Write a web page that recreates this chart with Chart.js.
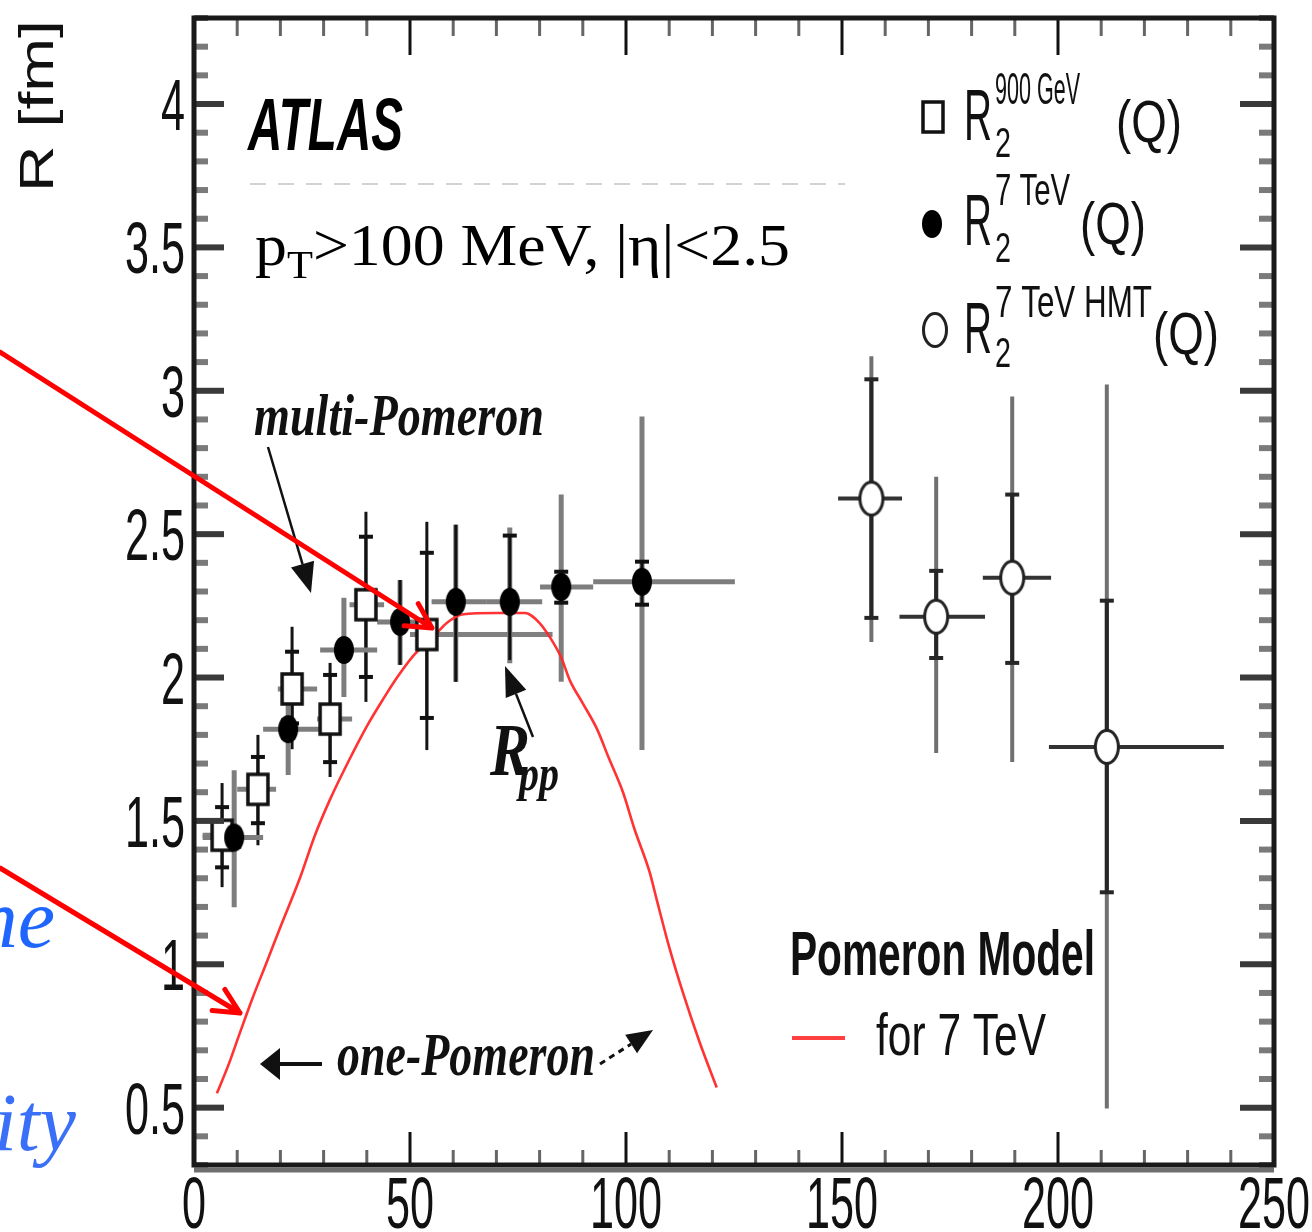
<!DOCTYPE html>
<html><head><meta charset="utf-8">
<script src="https://cdn.jsdelivr.net/npm/chart.js@4.4.0/dist/chart.umd.min.js"></script>
<style>html,body{margin:0;padding:0;background:#fff;}canvas{display:block;}</style>
</head><body>
<canvas id="c" width="1312" height="1232"></canvas>
<script>
// ---------------- data ----------------
const xTicks = [0, 50, 100, 150, 200, 250];
const xTickLabels = ['0', '50', '100', '150', '200', '250'];
const yTicks = [0.5, 1, 1.5, 2, 2.5, 3, 3.5, 4];
const yTickLabels = ['0.5', '1', '1.5', '2', '2.5', '3', '3.5', '4'];

// R2 900 GeV (open squares)
const q900 = [6.5, 14.8, 22.7, 31.5, 39.8, 53.9];
const r900 = [1.45, 1.61, 1.96, 1.855, 2.254, 2.15];
const q900Lo = [2, 10, 19.4, 28.5, 36, 50];
const q900Hi = [10, 19, 28.5, 36.6, 44, 83];
const r900TotLo = [1.269, 1.415, 1.75, 1.653, 1.915, 1.747];
const r900TotHi = [1.632, 1.80, 2.177, 2.051, 2.578, 2.543];
const r900StatLo = [1.338, 1.492, 1.84, 1.705, 2.002, 1.859];
const r900StatHi = [1.548, 1.723, 2.09, 2.009, 2.491, 2.435];

// R2 7 TeV (filled circles)
const q7 = [9.3, 21.8, 34.7, 47.7, 60.6, 73.1, 85.0, 103.7];
const r7 = [1.442, 1.82, 2.096, 2.194, 2.264, 2.264, 2.316, 2.334];
const q7Lo = [2, 16, 29.2, 42.4, 55, 67.8, 80.1, 92.4];
const q7Hi = [16, 29, 42.4, 54.6, 67.8, 80.6, 92.4, 125.2];
const r7TotLo = [1.199, 1.66, 1.932, 2.044, 1.985, 2.05, 1.985, 1.747];
const r7TotHi = [1.677, 1.99, 2.278, 2.34, 2.533, 2.523, 2.638, 2.910];
const r7StatLo = [1.41, 1.79, 2.07, 2.044, 1.985, 2.061, 2.261, 2.254];
const r7StatHi = [1.47, 1.85, 2.12, 2.34, 2.533, 2.495, 2.369, 2.404];

// R2 7 TeV HMT (open circles)
const qHmt = [156.8, 171.8, 189.4, 211.3];
const rHmt = [2.624, 2.212, 2.348, 1.758];
const qHmtLo = [149.1, 163.3, 182.6, 197.9];
const qHmtHi = [163.9, 183.1, 198.4, 238.4];
const rHmtTotLo = [2.124, 1.737, 1.705, 0.497];
const rHmtTotHi = [3.120, 2.70, 2.98, 3.022];
const rHmtStatLo = [2.208, 2.068, 2.051, 1.251];
const rHmtStatHi = [3.04, 2.372, 2.638, 2.268];

// Pomeron model for 7 TeV
const qModel = [5.3, 8, 10.6, 13.5, 16.9, 20, 24.5, 28, 31.5, 36, 40, 44, 47, 51, 55.3, 58.5, 62, 70, 76.6, 80, 82.4, 85, 87, 90, 93.3, 96, 99.3, 102, 105.5, 107.2, 110, 113.2, 117, 121];
const rModel = [0.55, 0.65, 0.76, 0.88, 1.01, 1.13, 1.30, 1.45, 1.575, 1.715, 1.83, 1.93, 2.00, 2.08, 2.14, 2.19, 2.22, 2.225, 2.225, 2.19, 2.14, 2.07, 1.99, 1.91, 1.82, 1.72, 1.60, 1.47, 1.32, 1.22, 1.06, 0.90, 0.73, 0.57];

// ---------------- helpers ----------------
const SANS = '"Liberation Sans", Arial, Helvetica, sans-serif';
const SERIF = '"Liberation Serif", "Times New Roman", serif';

function toXY(xs, ys) { return xs.map((x, i) => ({ x: x, y: ys[i] })); }

function makeMarker(w, h, draw) {
  const c = document.createElement('canvas');
  c.width = w; c.height = h;
  draw(c.getContext('2d'), w, h);
  return c;
}
const squareMarker = makeMarker(26, 36, (g) => {
  g.fillStyle = '#fff'; g.fillRect(3, 3, 20, 30);
  g.strokeStyle = '#111'; g.lineWidth = 3.5; g.strokeRect(3, 3, 20, 30);
});
const dotMarker = makeMarker(22, 30, (g) => {
  g.fillStyle = '#000'; g.beginPath(); g.ellipse(11, 15, 10, 14, 0, 0, Math.PI * 2); g.fill();
});
const ringMarker = makeMarker(28, 38, (g) => {
  g.fillStyle = '#fff'; g.strokeStyle = '#222'; g.lineWidth = 3;
  g.beginPath(); g.ellipse(14, 19, 11.5, 16.5, 0, 0, Math.PI * 2); g.fill(); g.stroke();
});

function fitText(ctx, str, x, y, font, width, color) {
  ctx.save();
  ctx.font = font; ctx.fillStyle = color || '#000';
  ctx.textAlign = 'left'; ctx.textBaseline = 'alphabetic';
  const w = ctx.measureText(str).width;
  ctx.translate(x, y); ctx.scale(width / w, 1);
  ctx.fillText(str, 0, 0);
  ctx.restore();
}
function squeezeText(ctx, str, x, y, font, s, align, color) {
  ctx.save();
  ctx.font = font; ctx.fillStyle = color || '#000';
  ctx.textAlign = align || 'left'; ctx.textBaseline = 'alphabetic';
  ctx.translate(x, y); ctx.scale(s, 1);
  ctx.fillText(str, 0, 0);
  ctx.restore();
}
function arrowFilled(ctx, x1, y1, x2, y2, headLen, headHalf, lw, color, dash) {
  const a = Math.atan2(y2 - y1, x2 - x1);
  const bx = x2 - headLen * Math.cos(a), by = y2 - headLen * Math.sin(a);
  ctx.save();
  ctx.strokeStyle = color; ctx.fillStyle = color; ctx.lineWidth = lw;
  if (dash) ctx.setLineDash(dash);
  ctx.beginPath(); ctx.moveTo(x1, y1); ctx.lineTo(bx, by); ctx.stroke();
  ctx.setLineDash([]);
  ctx.beginPath(); ctx.moveTo(x2, y2);
  ctx.lineTo(bx + headHalf * Math.sin(a), by - headHalf * Math.cos(a));
  ctx.lineTo(bx - headHalf * Math.sin(a), by + headHalf * Math.cos(a));
  ctx.closePath(); ctx.fill();
  ctx.restore();
}
function arrowOpen(ctx, x1, y1, x2, y2, len, ang, lw, color) {
  const a = Math.atan2(y2 - y1, x2 - x1);
  ctx.save();
  ctx.strokeStyle = color; ctx.lineWidth = lw; ctx.lineCap = 'round'; ctx.lineJoin = 'round';
  ctx.beginPath(); ctx.moveTo(x1, y1); ctx.lineTo(x2, y2);
  ctx.moveTo(x2 - len * Math.cos(a - ang), y2 - len * Math.sin(a - ang));
  ctx.lineTo(x2, y2);
  ctx.lineTo(x2 - len * Math.cos(a + ang), y2 - len * Math.sin(a + ang));
  ctx.stroke();
  ctx.restore();
}
function line(ctx, x1, y1, x2, y2, lw, color) {
  ctx.save(); ctx.strokeStyle = color; ctx.lineWidth = lw;
  ctx.beginPath(); ctx.moveTo(x1, y1); ctx.lineTo(x2, y2); ctx.stroke(); ctx.restore();
}

// error-bar series (data arrays + styles)
const errSeries = [
  { x: q900, y: r900, xlo: q900Lo, xhi: q900Hi, tlo: r900TotLo, thi: r900TotHi, slo: r900StatLo, shi: r900StatHi,
    st: { h: '#808080', hw: 5, t: '#151515', tw: 3, s: '#111', sw: 3, cap: 7 } },
  { x: q7, y: r7, xlo: q7Lo, xhi: q7Hi, tlo: r7TotLo, thi: r7TotHi, slo: r7StatLo, shi: r7StatHi,
    st: { h: '#7d7d7d', hw: 5, t: '#7d7d7d', tw: 5, s: '#111', sw: 3, cap: 7 } },
  { x: qHmt, y: rHmt, xlo: qHmtLo, xhi: qHmtHi, tlo: rHmtTotLo, thi: rHmtTotHi, slo: rHmtStatLo, shi: rHmtStatHi,
    st: { h: '#333', hw: 4, t: '#707070', tw: 4, s: '#262626', sw: 4, cap: 7 } }
];

const errorBarPlugin = {
  id: 'errorBars',
  beforeDatasetsDraw(chart) {
    const ctx = chart.ctx, xs = chart.scales.x, ys = chart.scales.y;
    errSeries.forEach(S => {
      const st = S.st;
      S.x.forEach((xv, i) => {
        const X = xs.getPixelForValue(xv), Y = ys.getPixelForValue(S.y[i]);
        line(ctx, xs.getPixelForValue(S.xlo[i]), Y, xs.getPixelForValue(S.xhi[i]), Y, st.hw, st.h);
        line(ctx, X, ys.getPixelForValue(S.tlo[i]), X, ys.getPixelForValue(S.thi[i]), st.tw, st.t);
        const sl = ys.getPixelForValue(S.slo[i]), sh = ys.getPixelForValue(S.shi[i]);
        line(ctx, X, sl, X, sh, st.sw, st.s);
        if (S.slo[i] - S.tlo[i] > 0.02) line(ctx, X - st.cap, sl, X + st.cap, sl, 4, st.s);
        if (S.thi[i] - S.shi[i] > 0.02) line(ctx, X - st.cap, sh, X + st.cap, sh, 4, st.s);
      });
    });
  }
};

const framePlugin = {
  id: 'rootFrame',
  afterDraw(chart) {
    const ctx = chart.ctx, xs = chart.scales.x, ys = chart.scales.y;
    const A = chart.chartArea;
    // ---- ticks (inside, all four sides) ----
    for (let k = 3; k <= 43; k++) {
      const v = k / 10, Y = ys.getPixelForValue(v);
      const major = (k % 5 === 0);
      const col = major ? '#3a3a3a' : '#7a7a7a';
      line(ctx, A.left, Y, A.left + (major ? 30 : 14), Y, 6, col);
      line(ctx, A.right, Y, A.right - (major ? 34 : 15), Y, 6, col);
    }
    for (let v = 0; v <= 250; v += 10) {
      const X = xs.getPixelForValue(v);
      const major = (v % 50 === 0);
      const col = major ? '#111' : '#666';
      line(ctx, X, A.bottom, X, A.bottom - (major ? 33 : 15), 3, col);
      line(ctx, X, A.top, X, A.top + (major ? 37 : 18), 3, col);
    }
    // ---- frame ----
    ctx.save();
    ctx.strokeStyle = '#1a1a1a'; ctx.lineWidth = 5;
    ctx.strokeRect(A.left, A.top, A.right - A.left, A.bottom - A.top);
    ctx.restore();
    line(ctx, A.left, A.bottom + 5, A.right, A.bottom + 5, 5, '#6e6e6e');

    // ---- tick labels ----
    ys.ticks.forEach((t, i) => {
      squeezeText(ctx, yTickLabels[i], A.left - 9, ys.getPixelForValue(t.value) + 26, '72px ' + SANS, 0.6, 'right', '#111');
    });
    xs.ticks.forEach((t, i) => {
      squeezeText(ctx, xTickLabels[i], xs.getPixelForValue(t.value), 1228, '72px ' + SANS, 0.6, 'center', '#111');
    });
    // ---- axis title ----
    ctx.save();
    ctx.font = '64px ' + SANS; ctx.fillStyle = '#111';
    const tw = ctx.measureText('R [fm]').width;
    ctx.translate(53, 192); ctx.rotate(-Math.PI / 2); ctx.scale(172 / tw, 0.76);
    ctx.fillText('R [fm]', 0, 0);
    ctx.restore();

    // ---- ATLAS + cuts ----
    fitText(ctx, 'ATLAS', 248, 150, 'italic bold 74px ' + SANS, 155, '#000');
    ctx.save(); ctx.strokeStyle = '#d2d2d2'; ctx.lineWidth = 2; ctx.setLineDash([16, 12]);
    ctx.beginPath(); ctx.moveTo(250, 184); ctx.lineTo(845, 184); ctx.stroke(); ctx.restore();
    ctx.save(); ctx.fillStyle = '#000'; ctx.textBaseline = 'alphabetic';
    const cutRest = '>100 MeV, |\u03b7|<2.5';
    ctx.font = '60px ' + SERIF; const wp = ctx.measureText('p').width, wr = ctx.measureText(cutRest).width;
    ctx.font = '40px ' + SERIF; const wt = ctx.measureText('T').width;
    const sc = 535 / (wp + wt + wr);
    ctx.translate(255, 265); ctx.scale(sc, 1);
    ctx.font = '60px ' + SERIF; ctx.fillText('p', 0, 0);
    ctx.font = '40px ' + SERIF; ctx.fillText('T', wp, 13);
    ctx.font = '60px ' + SERIF; ctx.fillText(cutRest, wp + wt, 0);
    ctx.restore();

    // ---- data legend (top right) ----
    ctx.drawImage(squareMarker, 933 - 13, 117 - 18);
    ctx.drawImage(dotMarker, 932 - 11, 224 - 15);
    ctx.drawImage(ringMarker, 935 - 14, 330 - 19);
    const ent = [
      { rb: 140, sup: '900 GeV', supb: 104, supw: 85, subb: 157, q: 1116, qb: 142 },
      { rb: 245, sup: '7 TeV', supb: 205, supw: 75, subb: 262, q: 1080, qb: 244 },
      { rb: 353, sup: '7 TeV HMT', supb: 317, supw: 157, subb: 367, q: 1153, qb: 354 }
    ];
    ent.forEach(e => {
      fitText(ctx, 'R', 964, e.rb, '72px ' + SANS, 28, '#111');
      fitText(ctx, '2', 995, e.subb, '42px ' + SANS, 16, '#111');
      fitText(ctx, e.sup, 995, e.supb, '45px ' + SANS, e.supw, '#111');
      fitText(ctx, '(Q)', e.q, e.qb, '60px ' + SANS, 66, '#111');
    });

    // ---- model legend ----
    fitText(ctx, 'Pomeron Model', 790, 975, 'bold 63px ' + SANS, 305, '#111');
    line(ctx, 792, 1038, 845, 1038, 4, '#ff4040');
    fitText(ctx, 'for 7 TeV', 876, 1055, '60px ' + SANS, 170, '#111');

    // ---- annotations ----
    fitText(ctx, 'multi-Pomeron', 254, 435, 'italic bold 60px ' + SERIF, 290, '#111');
    arrowFilled(ctx, 268, 447, 311, 593, 30, 12, 2.5, '#111');
    fitText(ctx, 'R', 490, 775, 'italic bold 75px ' + SERIF, 40, '#111');
    fitText(ctx, 'pp', 519, 790, 'italic bold 50px ' + SERIF, 40, '#111');
    arrowFilled(ctx, 533, 737, 505, 666, 30, 11, 2.5, '#111');
    fitText(ctx, 'one-Pomeron', 337, 1075, 'italic bold 62px ' + SERIF, 258, '#111');
    arrowFilled(ctx, 322, 1064, 260, 1064, 20, 16, 4, '#111');
    arrowFilled(ctx, 600, 1064, 653, 1030, 26, 11, 3, '#111', [6, 5]);

    // ---- overlaid slide annotations ----
    squeezeText(ctx, 'ne', 55, 947, 'italic 84px ' + SERIF, 1, 'right', '#1f66ff');
    squeezeText(ctx, 'ity', 76, 1150, 'italic 82px ' + SERIF, 1, 'right', '#3a6ff7');
    arrowOpen(ctx, 0, 352, 432, 628, 28, 28 * Math.PI / 180, 5, '#ff0000');
    arrowOpen(ctx, 0, 868, 240, 1013, 28, 26 * Math.PI / 180, 5, '#ff0000');
  }
};

new Chart(document.getElementById('c'), {
  type: 'scatter',
  data: {
    datasets: [
      { type: 'line', label: 'Pomeron Model for 7 TeV', data: toXY(qModel, rModel),
        borderColor: 'rgba(255,40,40,0.95)', borderWidth: 2.6, pointRadius: 0, fill: false,
        cubicInterpolationMode: 'monotone', order: 2 },
      { label: 'R2 900 GeV', data: toXY(q900, r900), pointStyle: squareMarker, pointRadius: 10, order: 1 },
      { label: 'R2 7 TeV', data: toXY(q7, r7), pointStyle: dotMarker, pointRadius: 10, order: 0 },
      { label: 'R2 7 TeV HMT', data: toXY(qHmt, rHmt), pointStyle: ringMarker, pointRadius: 10, order: 0 }
    ]
  },
  options: {
    responsive: false, animation: false, devicePixelRatio: 1,
    layout: { padding: { left: 0, top: 18, right: 38, bottom: 0 } },
    plugins: { legend: { display: false }, tooltip: { enabled: false } },
    scales: {
      x: { type: 'linear', min: 0, max: 250,
        afterBuildTicks: s => { s.ticks = xTicks.map(v => ({ value: v })); },
        afterFit: s => { s.height = 67; },
        ticks: { display: false }, grid: { display: false }, border: { display: false } },
      y: { type: 'linear', min: 0.3, max: 4.3,
        afterBuildTicks: s => { s.ticks = yTicks.map(v => ({ value: v })); },
        afterFit: s => { s.width = 194; },
        ticks: { display: false }, grid: { display: false }, border: { display: false } }
    }
  },
  plugins: [errorBarPlugin, framePlugin]
});
</script>
</body></html>
